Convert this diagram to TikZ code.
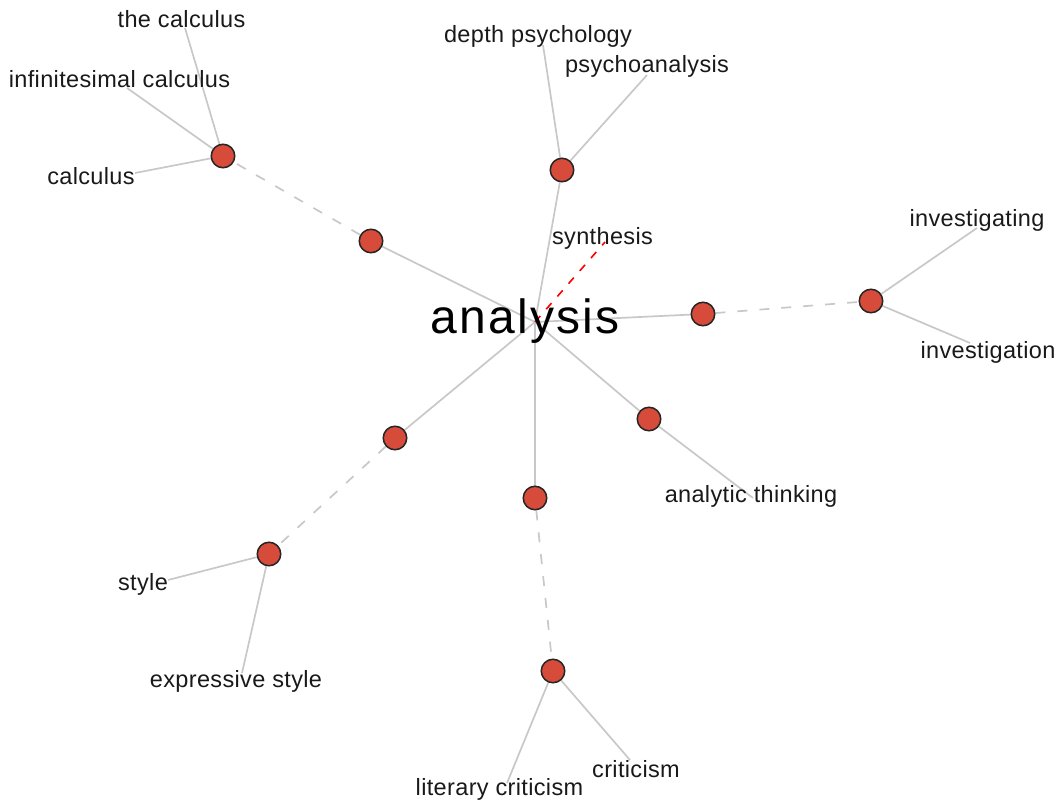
\documentclass[tikz,border=0pt]{standalone}
\usepackage{fontspec}
\setmainfont{Liberation Sans}
\definecolor{nodered}{RGB}{215,75,58}
\definecolor{linkgray}{RGB}{200,200,200}
\pgfdeclarelayer{bg}
\pgfsetlayers{bg,main}
\begin{document}
\begin{tikzpicture}[x=1pt,y=-1pt,
  hub/.style={circle,draw=black!85,line width=1.5pt,fill=nodered,minimum size=23.5pt,inner sep=0pt},
  lbl/.style={anchor=base,inner sep=0pt,text=black!90,font=\fontsize{23.5}{28}\selectfont\addfontfeature{LetterSpace=1.5}},
  title/.style={anchor=base,inner sep=0pt,text=black,font=\fontsize{48}{52}\selectfont\addfontfeature{LetterSpace=4.5}},
  link/.style={draw=linkgray,line width=1.7pt},
  weak/.style={link,dash pattern=on 10pt off 12pt},
  syn/.style={draw=red,line width=1.6pt,dash pattern=on 8pt off 9pt}]
\useasboundingbox (0,0) rectangle (1062,802);

% central term
\coordinate (c) at (535,322);
\node[title] (analysis) at (525,333) {analysis};

% intermediate nodes
\node[hub] (h1) at (223,156) {};
\node[hub] (h2) at (371,241) {};
\node[hub] (h3) at (562,170) {};
\node[hub] (h4) at (703,314) {};
\node[hub] (h5) at (871,301) {};
\node[hub] (h6) at (649,419) {};
\node[hub] (h7) at (535,498) {};
\node[hub] (h8) at (553,671) {};
\node[hub] (h9) at (395,438) {};
\node[hub] (h10) at (269,554) {};

% related terms
\node[lbl] (thecalc) at (181.5,28) {the calculus};
\node[lbl] (infcalc) at (119.5,88) {infinitesimal calculus};
\node[lbl] (calc) at (91,185) {calculus};
\node[lbl] (depth) at (538,43) {depth psychology};
\node[lbl] (psycho) at (647,73) {psychoanalysis};
\node[lbl] (synth) at (602.5,245) {synthesis};
\node[lbl] (invng) at (977,227) {investigating};
\node[lbl] (invon) at (988,358) {investigation};
\node[lbl] (analytic) at (751,502) {analytic thinking};
\node[lbl] (style) at (143,590) {style};
\node[lbl] (expr) at (236,687) {expressive style};
\node[lbl] (litcrit) at (499.5,795) {literary criticism};
\node[lbl] (crit) at (636,777) {criticism};

% where each link meets its label
\coordinate (e-thecalc) at (185,28);
\coordinate (e-infcalc) at (127,88);
\coordinate (e-calc) at (135,173);
\coordinate (e-depth) at (543,45);
\coordinate (e-psycho) at (647,75);
\coordinate (e-synth) at (605,242);
\coordinate (e-invng) at (977,228);
\coordinate (e-invon) at (970,343);
\coordinate (e-analytic) at (753,498);
\coordinate (e-style) at (168,580);
\coordinate (e-expr) at (242,673);
\coordinate (e-litcrit) at (507,783);
\coordinate (e-crit) at (630,760);

\begin{pgfonlayer}{bg}
  \draw[link] (c) -- (h2);
  \draw[link] (c) -- (h3);
  \draw[link] (c) -- (h4);
  \draw[link] (c) -- (h6);
  \draw[link] (c) -- (h7);
  \draw[link] (c) -- (h9);
  \draw[weak] (h2) -- (h1);
  \draw[weak] (h4) -- (h5);
  \draw[weak] (h7) -- (h8);
  \draw[weak] (h9) -- (h10);
  \draw[link] (h1) -- (e-thecalc);
  \draw[link] (h1) -- (e-infcalc);
  \draw[link] (h1) -- (e-calc);
  \draw[link] (h3) -- (e-depth);
  \draw[link] (h3) -- (e-psycho);
  \draw[link] (h5) -- (e-invng);
  \draw[link] (h5) -- (e-invon);
  \draw[link] (h6) -- (e-analytic);
  \draw[link] (h10) -- (e-style);
  \draw[link] (h10) -- (e-expr);
  \draw[link] (h8) -- (e-litcrit);
  \draw[link] (h8) -- (e-crit);
  \draw[syn] (c) -- (e-synth);
\end{pgfonlayer}
\end{tikzpicture}
\end{document}
